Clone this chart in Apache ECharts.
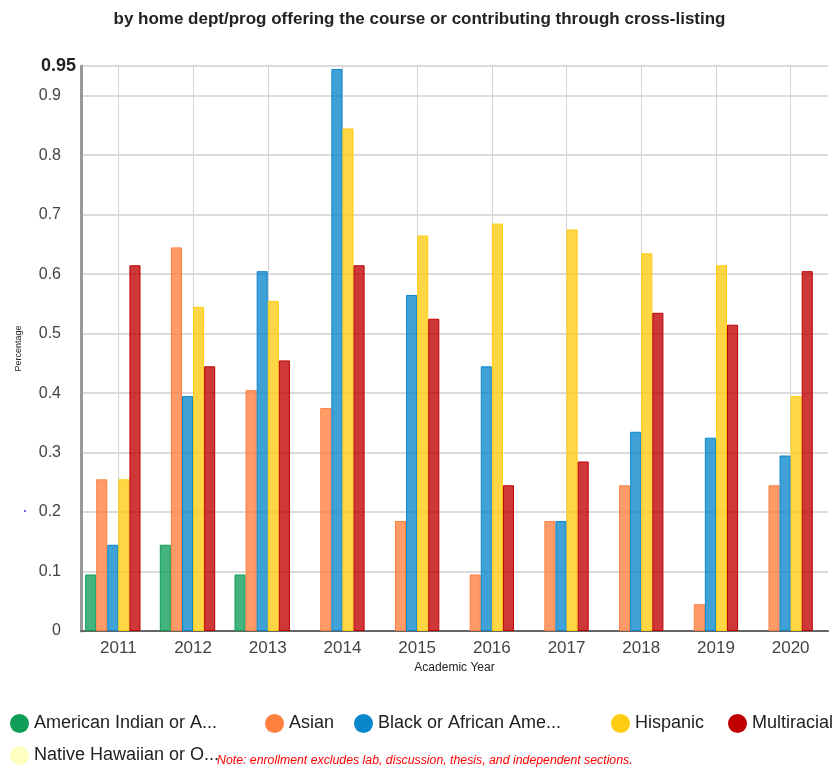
<!DOCTYPE html>
<html>
<head>
<meta charset="utf-8">
<script src="https://cdn.jsdelivr.net/npm/echarts@6/dist/echarts.min.js"></script>
<style>
html,body{margin:0;padding:0;background:#fff;}
#echarts{width:839px;height:772px;}
</style>
</head>
<body>
<div id="echarts"></div>
<script>
var years = ['2011','2012','2013','2014','2015','2016','2017','2018','2019','2020'];
var groups = ['American Indian or Alaska Native','Asian','Black or African American','Hispanic','Multiracial','Native Hawaiian or Other Pacific Islander'];
var legendLabels = ['American Indian or A...','Asian','Black or African Ame...','Hispanic','Multiracial','Native Hawaiian or O...'];
var amerIndian = [0.095, 0.145, 0.095, null, null, null, null, null, null, null];
var asian      = [0.255, 0.645, 0.405, 0.375, 0.185, 0.095, 0.185, 0.245, 0.045, 0.245];
var black      = [0.145, 0.395, 0.605, 0.945, 0.565, 0.445, 0.185, 0.335, 0.325, 0.295];
var hispanic   = [0.255, 0.545, 0.555, 0.845, 0.665, 0.685, 0.675, 0.635, 0.615, 0.395];
var multi      = [0.615, 0.445, 0.455, 0.615, 0.525, 0.245, 0.285, 0.535, 0.515, 0.605];
var hawaiian   = [null, null, null, null, null, null, null, null, null, null];
var yTicks = [0, 0.1, 0.2, 0.3, 0.4, 0.5, 0.6, 0.7, 0.8, 0.9, 0.95];

var colors = ['#0f9d58','#ff7f3f','#0a86cc','#ffcc11','#c00000','#ffffc0'];
var values = [amerIndian, asian, black, hispanic, multi, hawaiian];
var legendPos = [[10,714],[265,714],[354,714],[611,714],[728,714],[10,746]];

var myChart = echarts.init(document.getElementById('echarts'));

var series = [], legends = [];
for (var i = 0; i < groups.length; i++) {
    series.push({
        name: groups[i],
        type: 'bar',
        xAxisIndex: 0,
        barGap: '0%',
        barCategoryGap: '11%',
        data: values[i],
        itemStyle: {
            color: echarts.color.modifyAlpha(colors[i], 0.78),
            borderColor: colors[i],
            borderWidth: 1
        }
    });
    legends.push({
        data: [{name: groups[i], itemStyle: {color: colors[i], opacity: 1, borderWidth: 0}}],
        left: legendPos[i][0],
        top: legendPos[i][1],
        padding: 0,
        icon: 'circle',
        itemWidth: 19,
        itemHeight: 19,
        selectedMode: false,
        formatter: (function (k) { return function () { return legendLabels[k]; }; })(i),
        textStyle: {fontSize: 18, color: '#222', fontFamily: 'Liberation Sans, Arial'}
    });
}

var option = {
    animation: false,
    textStyle: {fontFamily: 'Liberation Sans, Arial'},
    title: {
        text: 'by home dept/prog offering the course or contributing through cross-listing',
        left: 'center',
        top: 6,
        textStyle: {fontSize: 17, fontWeight: 'bold', color: '#222'}
    },
    legend: legends,
    grid: {left: 81, right: 11, top: 66, bottom: 141},
    xAxis: [
        {
            type: 'category',
            data: years,
            name: 'Academic Year',
            nameLocation: 'middle',
            nameGap: 26,
            nameTextStyle: {fontSize: 12, color: '#222'},
            axisLine: {lineStyle: {color: '#666', width: 2}},
            axisTick: {show: false},
            axisLabel: {fontSize: 17, color: '#444', margin: 9},
            splitLine: {show: false}
        },
        {   // 竖线在每个类目中间
            type: 'value',
            min: 0,
            max: 10,
            interval: 1,
            position: 'bottom',
            show: true,
            axisLine: {show: false},
            axisTick: {show: false},
            axisLabel: {show: false},
            splitLine: {show: false},
            minorTick: {show: false, splitNumber: 2},
            minorSplitLine: {show: true, lineStyle: {color: '#d4d4d4', width: 1}}
        }
    ],
    yAxis: {
        type: 'value',
        min: 0,
        max: yTicks[yTicks.length - 1],
        interval: 0.1,
        name: 'Percentage',
        nameLocation: 'middle',
        nameGap: 58,
        nameRotate: 90,
        nameTextStyle: {fontSize: 9, color: '#222'},
        axisLine: {show: true, lineStyle: {color: '#999', width: 3}},
        axisTick: {show: false},
        axisLabel: {
            color: '#444',
            margin: 5,
            formatter: function (v) {
                if (Math.abs(v - 0.95) < 1e-6) return '{b|0.95}';
                return '{n|' + (Math.round(v * 10) / 10) + '}';
            },
            rich: {
                b: {fontSize: 18, fontWeight: 'bold', color: '#222'},
                n: {fontSize: 16, color: '#444', padding: [0, 15, 0, 0]}
            }
        },
        splitLine: {lineStyle: {color: '#cfcfcf', width: 1.5}}
    },
    graphic: [
        {
            type: 'text',
            left: 217,
            top: 755,
            style: {
                text: 'Note: enrollment excludes lab, discussion, thesis, and independent sections.',
                fill: '#ff0000',
                font: 'italic 12.3px Liberation Sans, Arial'
            }
        },
        {
            type: 'circle',
            shape: {cx: 25, cy: 511, r: 1},
            style: {fill: '#3333ff'}
        }
    ],
    series: series
};
myChart.setOption(option);
</script>
</body>
</html>
